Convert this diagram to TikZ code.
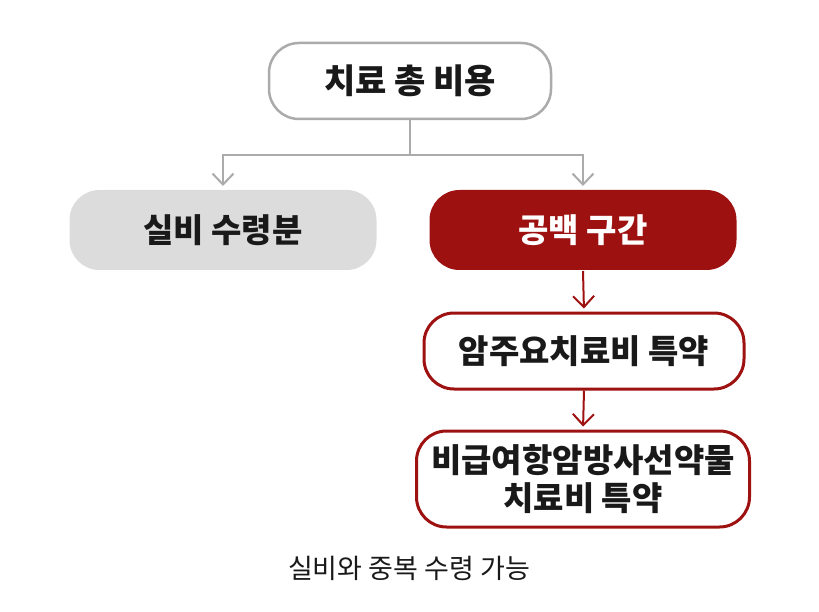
\documentclass[tikz,border=0pt]{standalone}
\usepackage{fontspec}
\newfontfamily\kr{Noto Sans CJK KR}
\usetikzlibrary{arrows.meta}
\definecolor{boxgray}{HTML}{DCDCDC}
\definecolor{linegray}{HTML}{ABABAB}
\definecolor{darkred}{HTML}{9E1111}
\begin{document}
\begin{tikzpicture}[
    x=1pt, y=-1pt,
    line width=2pt, % 연결선 굵기
    every node/.style={
        font=\kr\bfseries\fontsize{33}{38}\selectfont,
        text=black!90,
        rounded corners=30pt,
        align=center,
        inner sep=0pt
    },
    topbox/.style={draw=linegray, fill=white, line width=2.5pt},
    graybox/.style={fill=boxgray},
    redbox/.style={fill=darkred, text=white},
    redline/.style={draw=darkred, fill=white, line width=3pt},
    gline/.style={draw=linegray, line width=2pt},
    garrow/.style={gline, -{Straight Barb[length=11pt,width=21pt,line width=2pt]}},
    rarrow/.style={draw=darkred, line width=2pt, -{Straight Barb[length=11pt,width=21pt,line width=2pt]}}
]
  \useasboundingbox (0,0) rectangle (819,612);

  % 맨 위
  \node[topbox, minimum width=282pt, minimum height=76pt,
        font=\kr\bfseries\fontsize{34}{38}\selectfont] (total) at (410,81) {치료 총 비용};

  % 둘째 줄
  \node[graybox, minimum width=307pt, minimum height=80pt] (silbi) at (223,230) {실비 수령분};
  \node[redbox, minimum width=307pt, minimum height=80pt] (gap) at (583,230) {공백 구간};

  % 특약
  \node[redline, minimum width=320pt, minimum height=76pt] (main) at (584,351) {암주요치료비 특약};
  \node[redline, minimum width=333pt, minimum height=96pt] (drug) at (583,479) {비급여항암방사선약물\\치료비 특약};

  % 아래 설명
  \node[font=\kr\fontsize{27}{30}\selectfont, rounded corners=0pt] (note) at (409,568) {실비와 중복 수령 가능};

  % 연결선
  \coordinate (split) at (410,155);
  \draw[gline] (total.south) -- (split);
  \draw[garrow, shorten >=3pt] (split) -| (silbi.north);
  \draw[garrow, shorten >=3pt] (split) -| (gap.north);
  \draw[rarrow, shorten >=3pt] (gap.south) -- (main.north);
  \draw[rarrow, shorten >=3pt] (main.south) -- (drug.north);
\end{tikzpicture}
\end{document}
